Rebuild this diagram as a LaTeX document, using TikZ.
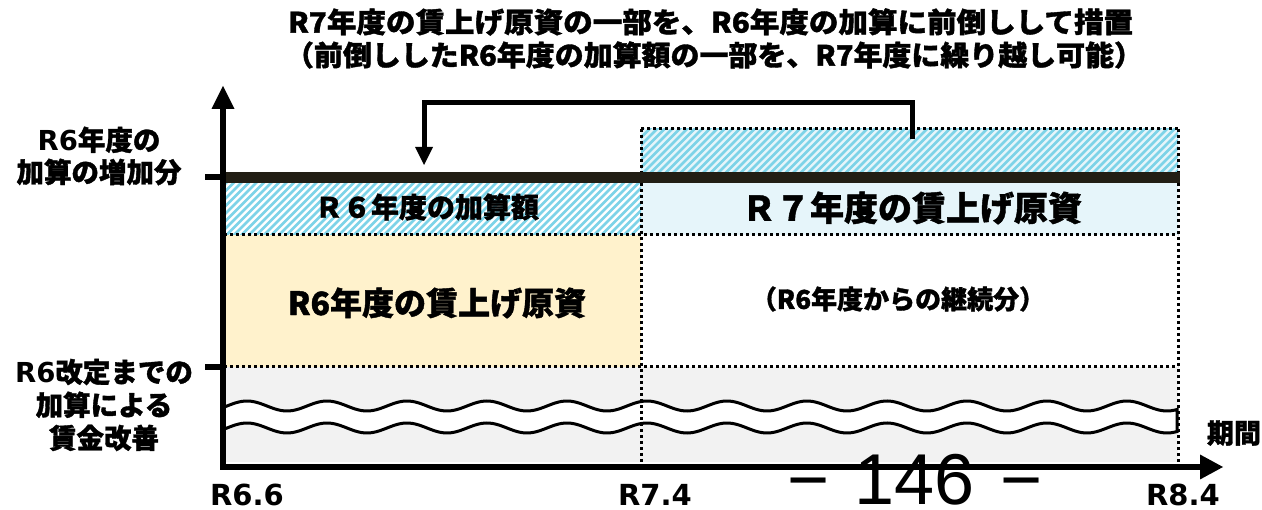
\documentclass[tikz,border=0pt]{standalone}
\usepackage{fontspec}
\usepackage{graphicx}
\setmainfont{Noto Sans CJK JP}[BoldFeatures={FakeBold=1.3}]
\newfontfamily\lat{DejaVu Sans}
\newfontfamily\pgfont{Liberation Sans}
\usetikzlibrary{arrows.meta}
\newcommand{\fsz}[2][1.2]{\fontsize{#2pt}{#1\dimexpr #2pt\relax}\selectfont}
\newcommand{\fitw}[2]{\resizebox{#1pt}{\height}{#2}}
\definecolor{hatchc}{HTML}{7DD3E8}
\definecolor{lightb}{HTML}{E6F5FA}
\definecolor{yel}{HTML}{FFF2CC}
\definecolor{gry}{HTML}{F2F2F2}
\definecolor{barc}{HTML}{221E14}
\begin{document}
\begin{tikzpicture}[x=1pt,y=-1pt,
  txt/.style={inner sep=0pt, outer sep=0pt},
  hatch/.style={hatchc, line width=2.6pt},
  dots/.style={black, line width=3pt, dash pattern=on 3pt off 3pt},
  axis/.style={black, line width=6pt},
  tick/.style={black, line width=6pt},
  conn/.style={black, line width=5pt, line join=miter, -{Triangle[length=18pt,width=18pt,line width=0pt]}},
  wave/.style={black, line width=3pt, fill=white}]
\useasboundingbox (0,0) rectangle (1262,510);
\fill[white] (0,0) rectangle (1262,510);
% regions
\fill[gry] (224,367) rectangle (1178,462);
\fill[yel] (224,235) rectangle (641,367);
\fill[lightb] (641,183) rectangle (1178,235);
\fill[lightb] (641,129) rectangle (1178,172);
% hatching
\begin{scope}
  \clip (224,183) rectangle (641,235);
  \foreach \i in {0,...,72} \draw[hatch] ({164+7.5*\i},245) -- ++(70,-70);
\end{scope}
\begin{scope}
  \clip (641,129) rectangle (1178,172);
  \foreach \i in {0,...,82} \draw[hatch] ({591+7.5*\i},180) -- ++(60,-60);
\end{scope}
% wavy band
\draw[wave] plot[domain=224:1177, samples=320, smooth] (\x,{406-5*cos(4.5*(\x-327))})
  -- plot[domain=1177:224, samples=320, smooth] (\x,{428-5*cos(4.5*(\x-327))}) -- cycle;
% dotted lines
\draw[dots] (224,235) -- (1178,235);
\draw[dots] (224,367) -- (1178,367);
\draw[dots] (641,129) -- (1178,129);
\draw[dots] (641,129) -- (641,462);
\draw[dots] (1178,129) -- (1178,462);
% thick bar
\draw[barc, line width=11pt] (222,177.5) -- (1180,177.5);
% axes
\coordinate (O) at (223,470);
\coordinate (Ytip) at (223,86);
\coordinate (Xstart) at (220,467);
\coordinate (Xtip) at (1223,467);
\draw[axis, -{Triangle[length=23pt,width=23pt,line width=0pt]}] (O) -- (Ytip);
\draw[axis, -{Triangle[length=23pt,width=25pt,line width=0pt]}] (Xstart) -- (Xtip);
\coordinate (t1a) at (205,177); \coordinate (t1b) at (223,177);
\coordinate (t2a) at (205,367); \coordinate (t2b) at (223,367);
\draw[tick] (t1a) -- (t1b);
\draw[tick] (t2a) -- (t2b);
% connector
\coordinate (src) at (912,139);
\coordinate (dst) at (424,165);
\draw[conn] (src) -- ++(0,-36) -| (dst);
% texts
\node[txt, font={\bfseries\fsz{28}}] (title1) at (710.5,22) {\fitw{845}{R7年度の賃上げ原資の一部を、R6年度の加算に前倒しして措置}};
\node[txt, font={\bfseries\fsz{28}}] (title2) at (714,55) {\fitw{858}{（前倒ししたR6年度の加算額の一部を、R7年度に繰り越し可能）}};
\node[txt, align=center, font={\bfseries\fsz[1.17]{27.5}}] (lab1) at (99,156) {{\lat R6}年度の\\加算の増加分};
\node[txt, align=center, font={\bfseries\fsz[1.2]{27.5}}] (lab2) at (104,405) {{\lat R6}改定までの\\加算による\\賃金改善};
\node[txt, font={\bfseries\fsz{28}}] (r6add) at (427,207) {Ｒ６年度の加算額};
\node[txt, font={\bfseries\fsz{34}}] (r7src) at (912,208) {Ｒ７年度の賃上げ原資};
\node[txt, font={\bfseries\fsz{32}}] (r6src) at (437,303) {R6年度の賃上げ原資};
\node[txt, font={\bfseries\fsz{26}}] (cont) at (898,299) {（R6年度からの継続分）};
\node[txt, font={\bfseries\fsz{27}}] (period) at (1234,433) {期間};
\node[txt, text depth=0pt, font={\bfseries\lat\fsz{29}}] (x1) at (247,495) {R6.6};
\node[txt, text depth=0pt, font={\bfseries\lat\fsz{29}}] (x2) at (655,495) {R7.4};
\node[txt, text depth=0pt, font={\bfseries\lat\fsz{29}}] (x3) at (1183,495) {R8.4};
\node[txt, anchor=base, text depth=0pt, font={\pgfont\fsz{72}}] (pnum) at (915,505) {−\hspace{25pt}146\hspace{25pt}−};
\end{tikzpicture}
\end{document}
